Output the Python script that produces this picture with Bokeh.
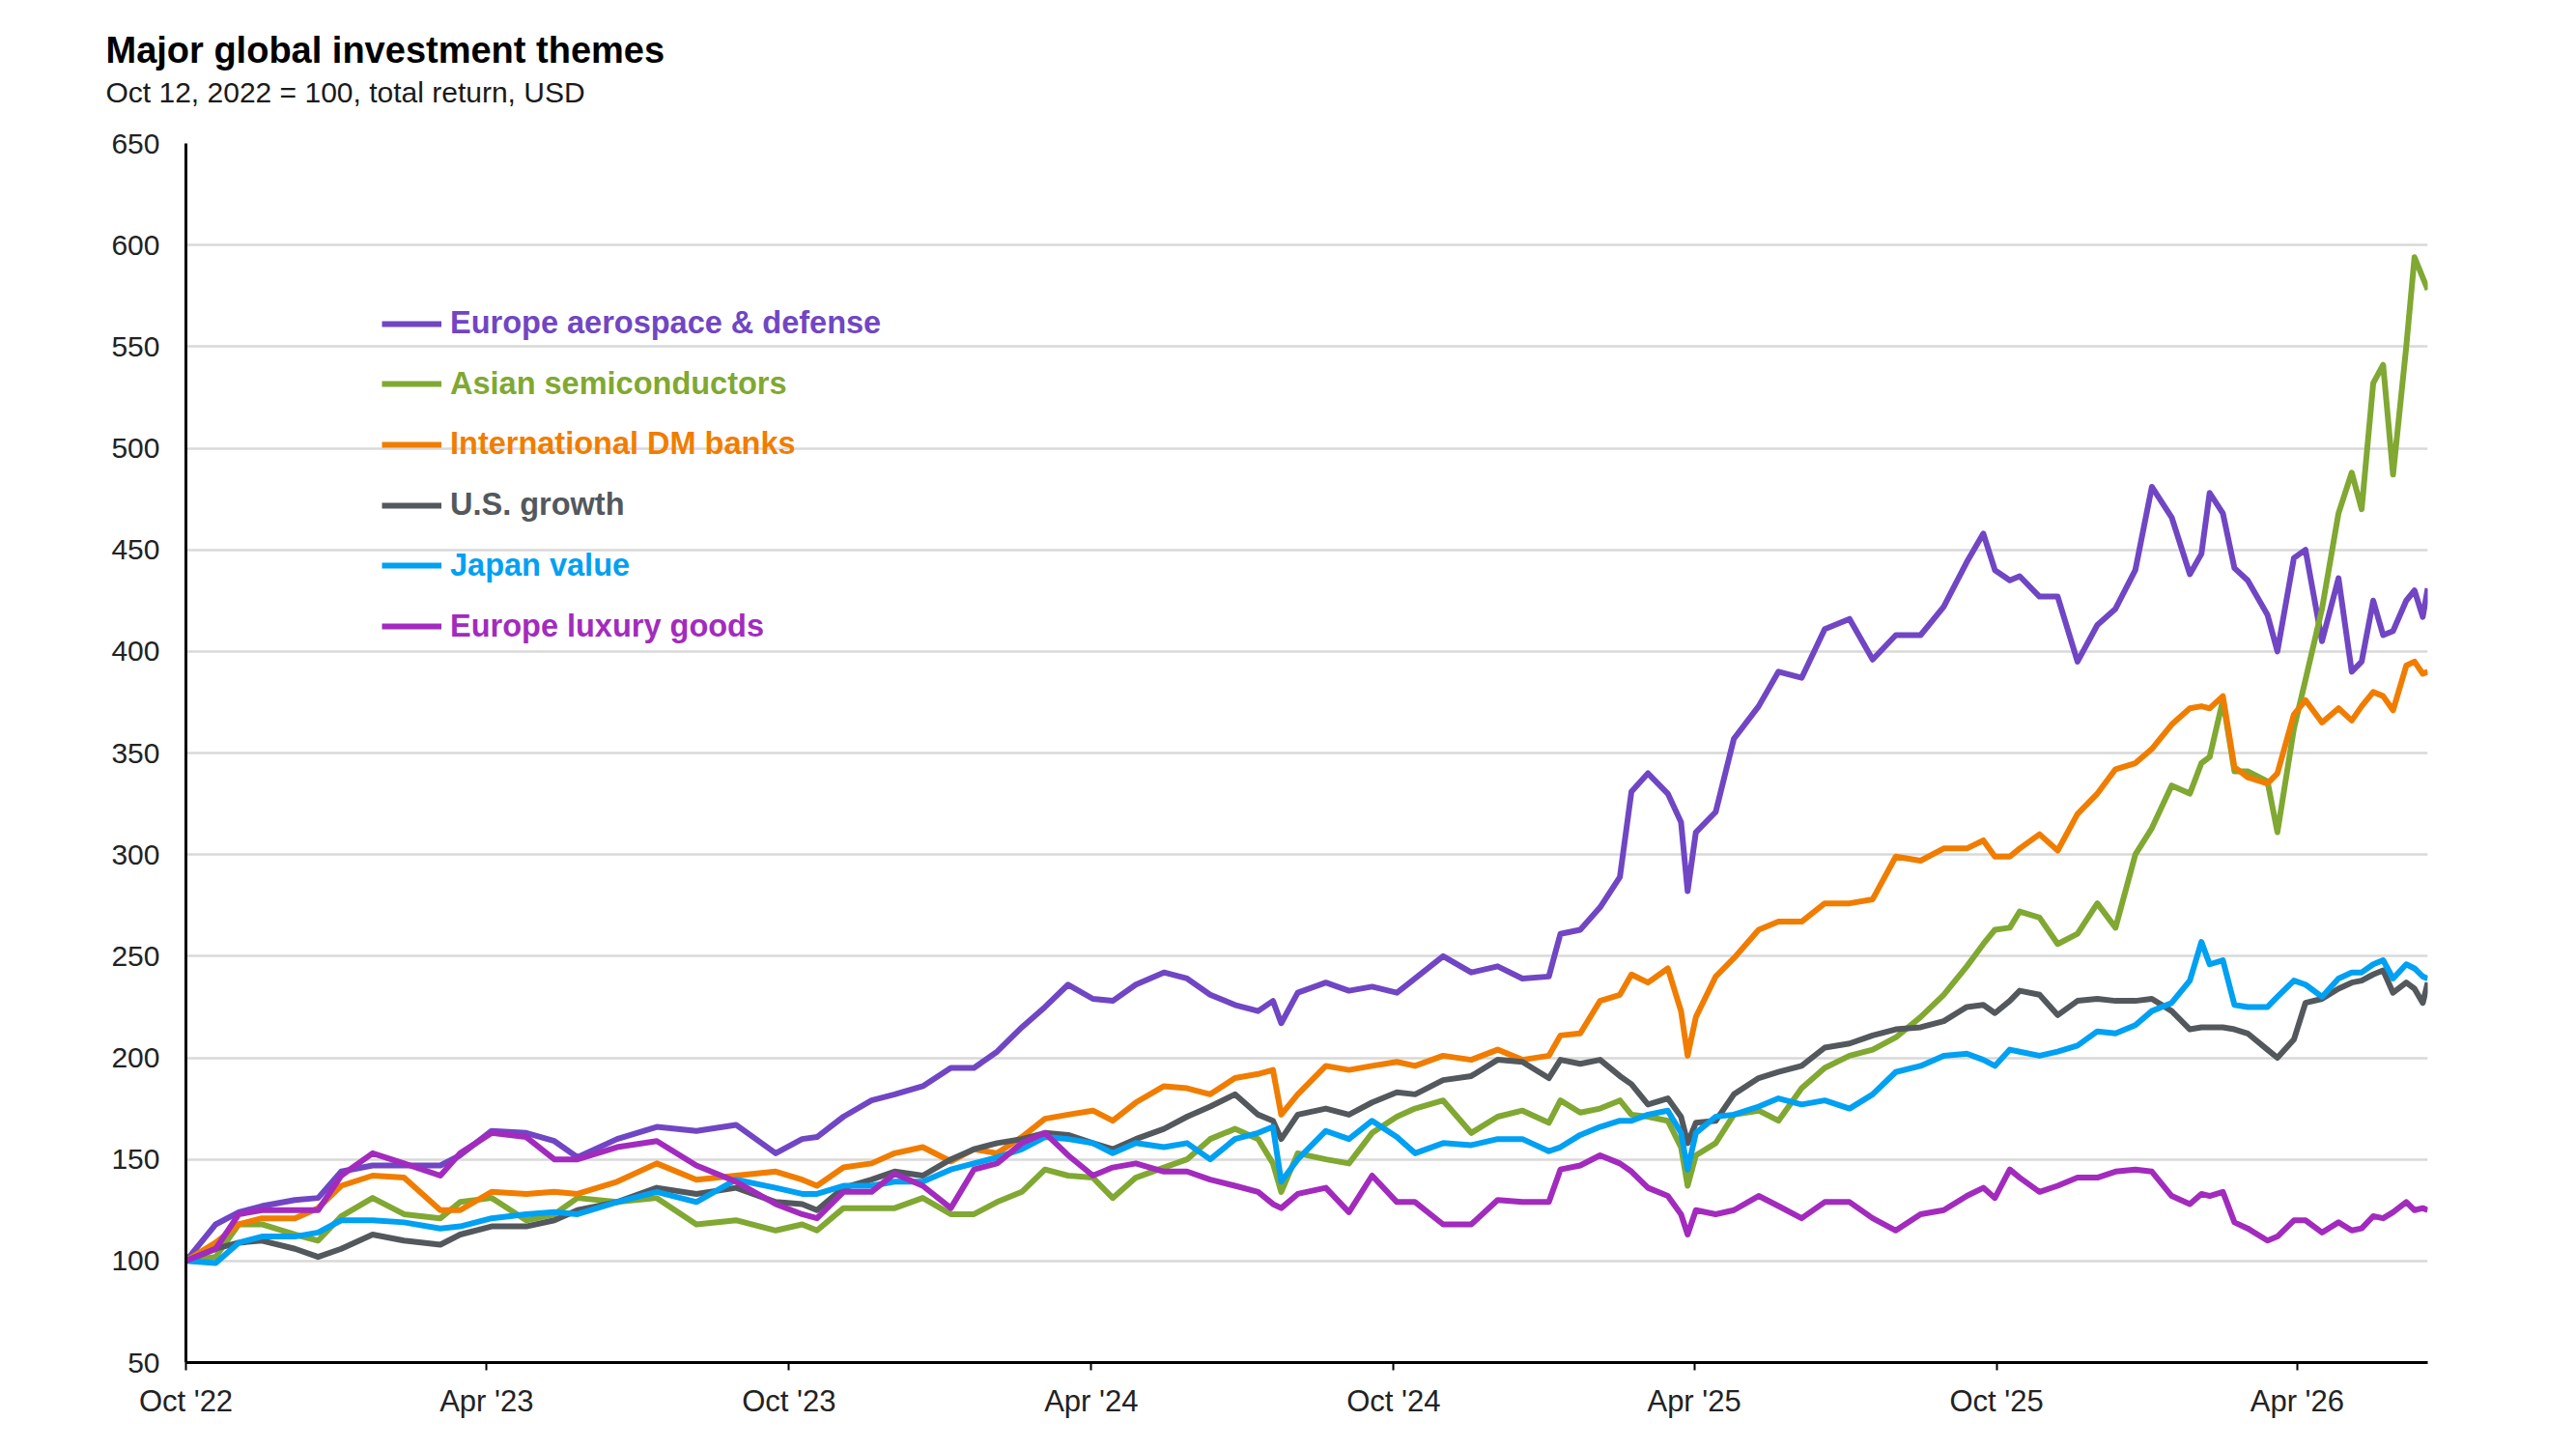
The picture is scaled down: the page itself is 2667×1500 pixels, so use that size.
import pandas as pd
from bokeh.plotting import figure
from bokeh.layouts import column
from bokeh.models import (Range1d, SingleIntervalTicker, FixedTicker, DatetimeTickFormatter,
                          Legend, LegendItem, Title, ColumnDataSource)
from bokeh.embed import file_html
from bokeh.resources import INLINE

# ---------------- data ----------------
dates = [
    "2022-10-12", "2022-10-30", "2022-11-13", "2022-11-27", "2022-12-17", "2022-12-31", "2023-01-14",
    "2023-02-02", "2023-02-21", "2023-03-15", "2023-03-27", "2023-04-15", "2023-05-06", "2023-05-23",
    "2023-06-06", "2023-06-30", "2023-07-24", "2023-08-17", "2023-09-10", "2023-10-04", "2023-10-20",
    "2023-10-29", "2023-11-14", "2023-12-01", "2023-12-15", "2024-01-01", "2024-01-18", "2024-02-01",
    "2024-02-15", "2024-03-01", "2024-03-15", "2024-03-29", "2024-04-13", "2024-04-25", "2024-05-09",
    "2024-05-26", "2024-06-09", "2024-06-23", "2024-07-08", "2024-07-22", "2024-07-31", "2024-08-05",
    "2024-08-15", "2024-09-01", "2024-09-15", "2024-09-29", "2024-10-14",
    "2024-10-25", "2024-11-11", "2024-11-28", "2024-12-14", "2024-12-29", "2025-01-14", "2025-01-21",
    "2025-02-02", "2025-02-14", "2025-02-26", "2025-03-05", "2025-03-15", "2025-03-27", "2025-04-04",
    "2025-04-08", "2025-04-13", "2025-04-25", "2025-05-06", "2025-05-21", "2025-06-02", "2025-06-16",
    "2025-06-30", "2025-07-15", "2025-07-29", "2025-08-12", "2025-08-27", "2025-09-10", "2025-09-24",
    "2025-10-04", "2025-10-11", "2025-10-20",
    "2025-10-26", "2025-11-07", "2025-11-18", "2025-11-30", "2025-12-12", "2025-12-23", "2026-01-04",
    "2026-01-14", "2026-01-26", "2026-02-06", "2026-02-13", "2026-02-18", "2026-02-26", "2026-03-05",
    "2026-03-13", "2026-03-25", "2026-03-31", "2026-04-10", "2026-04-17", "2026-04-27", "2026-05-07",
    "2026-05-15", "2026-05-21", "2026-05-28", "2026-06-03", "2026-06-09", "2026-06-17", "2026-06-22",
    "2026-06-27", "2026-06-30",
]

europe_aerospace_defense = [
    100, 118, 124, 127, 130, 131, 144, 147, 147, 147, 152, 164, 163, 159, 151, 160, 166, 164, 167, 153, 160,
    161, 171, 179, 182, 186, 195, 195, 203, 215, 225, 236, 229, 228, 236, 242, 239, 231, 226, 223, 228, 217,
    232, 237, 233, 235, 232,
    239, 250, 242, 245, 239, 240, 261, 263, 274, 289, 331, 340, 330, 316, 282, 311, 321, 357, 373, 390, 387,
    411, 416, 396, 408, 408, 422, 444, 458, 440, 435,
    437, 427, 427, 395, 413, 421, 440, 481, 466, 438, 448, 478, 468, 441, 435, 418, 400, 446, 450, 405, 436,
    390, 395, 425, 408, 410, 425, 430, 417, 431,
]

asian_semiconductors = [
    100, 102, 118, 118, 113, 110, 122, 131, 123, 121, 129, 131, 120, 123, 131, 129, 131, 118, 120, 115, 118,
    115, 126, 126, 126, 131, 123, 123, 129, 134, 145, 142, 141, 131, 141, 146, 150, 160, 165, 160, 148, 134,
    153, 150, 148, 163, 171,
    175, 179, 163, 171, 174, 168, 179, 173, 175, 179, 172, 171, 169, 156, 137, 152, 158, 172, 174, 169, 185,
    195, 201, 204, 210, 220, 231, 245, 256, 263, 264,
    272, 269, 256, 261, 276, 264, 300, 313, 334, 330, 345, 348, 376, 341, 341, 336, 311, 362, 386, 421, 468,
    488, 470, 532, 541, 487, 550, 594, 584, 578,
]

international_dm_banks = [
    100, 109, 118, 121, 121, 126, 137, 142, 141, 125, 125, 134, 133, 134, 133, 139, 148, 140, 142, 144, 140,
    137, 146, 148, 153, 156, 149, 155, 153, 161, 170, 172, 174, 169, 178, 186, 185, 182, 190, 192, 194, 172,
    182, 196, 194, 196, 198,
    196, 201, 199, 204, 199, 201, 211, 212, 228, 231, 241, 237, 244, 223, 201, 220, 240, 249, 263, 267, 267,
    276, 276, 278, 299, 297, 303, 303, 307, 299, 299,
    303, 310, 302, 320, 330, 342, 345, 352, 364, 372, 373, 372, 378, 343, 338, 335, 340, 369, 376, 365, 372,
    366, 373, 380, 378, 371, 393, 395, 389, 390,
]

us_growth = [
    100, 106, 109, 110, 106, 102, 106, 113, 110, 108, 113, 117, 117, 120, 125, 129, 136, 133, 136, 129, 128,
    125, 136, 140, 144, 142, 150, 155, 158, 160, 163, 162, 158, 155, 160, 165, 171, 176, 182, 172, 169, 160,
    172, 175, 172, 178, 183,
    182, 189, 191, 199, 198, 190, 199, 197, 199, 191, 187, 177, 180, 171, 158, 168, 169, 182, 190, 193, 196,
    205, 207, 211, 214, 215, 218, 225, 226, 222, 228,
    233, 231, 221, 228, 229, 228, 228, 229, 223, 214, 215, 215, 215, 214, 212, 204, 200, 209, 227, 229, 234,
    237, 238, 241, 243, 232, 237, 234, 227, 237,
]

japan_value = [
    100, 99, 109, 112, 112, 114, 120, 120, 119, 116, 117, 121, 123, 124, 123, 129, 134, 129, 140, 136, 133,
    133, 137, 137, 139, 139, 145, 148, 151, 155, 161, 160, 158, 153, 158, 156, 158, 150, 160, 163, 166, 139,
    150, 164, 160, 169, 161,
    153, 158, 157, 160, 160, 154, 156, 162, 166, 169, 169, 172, 174, 163, 145, 163, 171, 172, 176, 180, 177,
    179, 175, 182, 193, 196, 201, 202, 199, 196, 204,
    203, 201, 203, 206, 213, 212, 216, 223, 227, 238, 257, 246, 248, 226, 225, 225, 230, 238, 236, 230, 239,
    242, 242, 246, 248, 239, 246, 244, 240, 239,
]

europe_luxury_goods = [
    100, 106, 123, 125, 125, 125, 142, 153, 148, 142, 153, 163, 161, 150, 150, 156, 159, 147, 139, 128, 123,
    121, 134, 134, 143, 137, 126, 145, 148, 158, 163, 152, 142, 146, 148, 144, 144, 140, 137, 134, 128, 126,
    133, 136, 124, 142, 129,
    129, 118, 118, 130, 129, 129, 145, 147, 152, 148, 144, 136, 132, 123, 113, 125, 123, 125, 132, 127, 121,
    129, 129, 121, 115, 123, 125, 132, 136, 131, 145,
    141, 134, 137, 141, 141, 144, 145, 144, 132, 128, 133, 132, 134, 119, 116, 110, 112, 120, 120, 114, 119,
    115, 116, 122, 121, 124, 129, 125, 126, 125,
]

series_names = ["Europe aerospace & defense", "Asian semiconductors", "International DM banks",
                "U.S. growth", "Japan value", "Europe luxury goods"]
series_keys = ["aero", "semi", "banks", "growth", "japan", "lux"]
series_colors = ["#7046C4", "#80A832", "#F07D00", "#53585D", "#00A0F2", "#A22BBE"]

x_tick_dates = ["2022-10-12", "2023-04-12", "2023-10-12", "2024-04-12", "2024-10-12",
                "2025-04-12", "2025-10-12", "2026-04-12"]
x_start, x_end = "2022-10-12", "2026-06-30"
y_start, y_end, y_step = 50, 650, 50

title_text = "Major global investment themes"
subtitle_text = "Oct 12, 2022 = 100, total return, USD"

# ---------------- layout constants ----------------
FONT = "Liberation Sans"
W = 2651
HEAD_H = 128          # height of the heading strip
MAIN_H = 1356         # height of the chart figure
BORDER_L, BORDER_R = 192, 138

# ---------------- heading strip (titles only) ----------------
head = figure(width=W, height=HEAD_H, output_backend="svg", toolbar_location=None,
              x_range=Range1d(0, 1), y_range=Range1d(0, 1),
              x_axis_location=None, y_axis_location=None,
              min_border_left=BORDER_L, min_border_right=BORDER_R,
              min_border_top=113, min_border_bottom=0)
head.grid.visible = False
head.outline_line_color = None
head.background_fill_color = "white"
head.border_fill_color = "white"
# first added sits nearest the frame
head.add_layout(Title(text=subtitle_text, align="left", offset=-83, standoff=4,
                      text_font=FONT, text_font_size="30px", text_font_style="normal",
                      text_color="#1A1A1A"), "above")
head.add_layout(Title(text=title_text, align="left", offset=-83, standoff=4,
                      text_font=FONT, text_font_size="38px", text_font_style="bold",
                      text_color="black"), "above")

# ---------------- chart ----------------
src = ColumnDataSource(dict(
    date=pd.to_datetime(dates),
    aero=europe_aerospace_defense,
    semi=asian_semiconductors,
    banks=international_dm_banks,
    growth=us_growth,
    japan=japan_value,
    lux=europe_luxury_goods,
))

p = figure(width=W, height=MAIN_H, x_axis_type="datetime",
           output_backend="svg", toolbar_location=None,
           x_range=Range1d(pd.Timestamp(x_start), pd.Timestamp(x_end)),
           y_range=Range1d(y_start, y_end),
           min_border_left=BORDER_L, min_border_right=BORDER_R, min_border_top=20, min_border_bottom=74)
p.outline_line_color = None
p.background_fill_color = "white"
p.border_fill_color = "white"

yticker = SingleIntervalTicker(interval=y_step, num_minor_ticks=0)
p.yaxis[0].ticker = yticker
p.ygrid[0].ticker = yticker
p.xgrid.visible = False
p.ygrid.grid_line_color = "#D9D9D9"
p.ygrid.grid_line_width = 2.5

xa = p.xaxis[0]
xa.ticker = FixedTicker(ticks=[pd.Timestamp(d).value / 1e6 for d in x_tick_dates])
fmt = "%b '%y"
xa.formatter = DatetimeTickFormatter(days=fmt, months=fmt, years=fmt, hours=fmt, hourmin=fmt,
                                     minutes=fmt, minsec=fmt, seconds=fmt, milliseconds=fmt,
                                     microseconds=fmt)
xa.axis_line_color = "black"
xa.axis_line_width = 3
xa.major_tick_line_color = "black"
xa.major_tick_line_width = 2
xa.major_tick_out = 8
xa.major_tick_in = 0
xa.minor_tick_out = 0
xa.minor_tick_in = 0
xa.major_label_standoff = 14
xa.major_label_text_font = FONT
xa.major_label_text_font_size = "31px"
xa.major_label_text_color = "#222222"

ya = p.yaxis[0]
ya.axis_line_color = "black"
ya.axis_line_width = 3
ya.major_tick_out = 0
ya.major_tick_in = 0
ya.minor_tick_out = 0
ya.minor_tick_in = 0
ya.major_label_standoff = 27
ya.major_label_text_font = FONT
ya.major_label_text_font_size = "30px"
ya.major_label_text_color = "#222222"

renderers = []
for key, color in zip(series_keys, series_colors):
    r = p.line("date", key, source=src, line_color=color, line_width=6, line_join="round")
    renderers.append(r)

# legends: one per series so each label takes its series colour
legend_x = 203
legend_first_center = 1075
legend_step = 62.7
item_h = 36
for i, (name, r, color) in enumerate(zip(series_names, renderers, series_colors)):
    cy = legend_first_center - i * legend_step
    leg = Legend(items=[LegendItem(label=name, renderers=[r])],
                 location=(legend_x, cy - item_h / 2),
                 orientation="vertical", padding=0, margin=0, spacing=0,
                 glyph_width=62, glyph_height=item_h, label_height=item_h, label_standoff=9,
                 label_text_font=FONT, label_text_font_size="32.5px", label_text_font_style="bold",
                 label_text_color=color, label_text_baseline="middle",
                 border_line_alpha=0, background_fill_alpha=0)
    p.add_layout(leg, "center")

layout = column(head, p, spacing=0)
open("out.html", "w").write(file_html(layout, INLINE))
